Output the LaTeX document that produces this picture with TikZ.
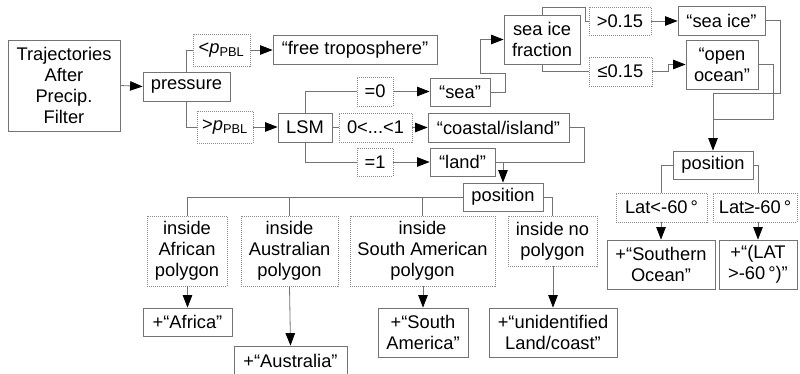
\documentclass[tikz,border=0pt]{standalone}
\usepackage{fontspec}
\setmainfont{Liberation Sans}
\usetikzlibrary{arrows.meta,calc}
\begin{document}
\begin{tikzpicture}[x=1pt,y=-1pt,
  box/.style={draw=black!55, line width=0.8pt, inner sep=0pt, align=center, font=\fontsize{18.3}{21}\selectfont},
  cond/.style={box, draw=black!45, dash pattern=on 1pt off 1pt},
  ln/.style={draw=black!55, line width=0.8pt},
  arr/.style={ln, -{Triangle[length=12.5pt,width=9.5pt,color=black]}}]
\useasboundingbox (0,0) rectangle (800,374);
% left part
\node[box, minimum width=112pt, minimum height=91pt] (traj) at (64,85.5) {Trajectories\\After\\Precip.\\Filter};
\node[box, minimum width=87pt, minimum height=29pt] (press) at (186.5,86.5) {pressure};
\node[cond, minimum width=57pt, minimum height=32pt] (ltp) at (221.5,50) {<\textit{p}\textsubscript{PBL}};
\node[box, minimum width=164pt, minimum height=29pt] (free) at (355,49.5) {“free troposphere”};
\node[cond, minimum width=56pt, minimum height=32pt] (gtp) at (225,127) {>\textit{p}\textsubscript{PBL}};
\node[box, minimum width=54pt, minimum height=29pt] (lsm) at (305,127.5) {LSM};
\node[cond, minimum width=36pt, minimum height=29pt] (eq0) at (375,91.5) {=0};
\node[box, minimum width=60pt, minimum height=28pt] (sea) at (460,92) {“sea”};
\node[cond, minimum width=73pt, minimum height=29pt] (mid) at (375.5,127.5) {0<...<1};
\node[box, minimum width=141pt, minimum height=29pt] (coast) at (498.5,127.5) {“coastal/island”};
\node[cond, minimum width=36pt, minimum height=28pt] (eq1) at (375,162) {=1};
\node[box, minimum width=65pt, minimum height=28pt] (land) at (462.5,162) {“land”};
\node[box, minimum width=80pt, minimum height=28pt] (posL) at (503,197) {position};
% sea ice part
\node[box, minimum width=76pt, minimum height=49pt] (sif) at (542,39.5) {sea ice\\fraction};
\node[cond, minimum width=62pt, minimum height=28pt] (gt015) at (620,21) {>0.15};
\node[box, minimum width=87pt, minimum height=29pt] (seaice) at (721.5,20.5) {“sea ice”};
\node[cond, minimum width=63pt, minimum height=29pt] (le015) at (620.5,71.5) {≤0.15};
\node[box, minimum width=72pt, minimum height=49pt] (open) at (722,64.5) {“open\\ocean”};
\node[box, minimum width=80pt, minimum height=28pt] (posR) at (713,165) {position};
\node[cond, minimum width=91pt, minimum height=29pt] (latlt) at (661.5,207.5) {Lat<-60\,°};
\node[cond, minimum width=84pt, minimum height=29pt] (latge) at (755,207.5) {Lat≥-60\,°};
\node[box, minimum width=108pt, minimum height=49pt] (south) at (661,264.5) {+“Southern\\Ocean”};
\node[box, minimum width=78pt, minimum height=49pt] (latgt) at (758,264.5) {+“(LAT\\>-60\,°)”};
% continents
\node[cond, minimum width=80pt, minimum height=70pt] (afr) at (187,251) {inside\\African\\polygon};
\node[box, minimum width=89pt, minimum height=28pt] (africa) at (187.5,322) {+“Africa”};
\node[cond, minimum width=97pt, minimum height=70pt] (aus) at (289.5,251) {inside\\Australian\\polygon};
\node[box, minimum width=113pt, minimum height=30pt] (austr) at (290.5,361) {+“Australia”};
\node[cond, minimum width=145pt, minimum height=70pt] (sam) at (422.5,251) {inside\\South American\\polygon};
\node[box, minimum width=90pt, minimum height=49pt] (samer) at (423,332.5) {+“South\\America”};
\node[cond, minimum width=89pt, minimum height=50pt] (nopoly) at (552.5,241) {inside no\\polygon};
\node[box, minimum width=128pt, minimum height=49pt] (unid) at (553,332.5) {+“unidentified\\Land/coast”};
% connectors
\draw[arr] (traj.east) -- (press.west);
\draw[ln] (press.north) |- (ltp.west);
\draw[arr] (ltp.east) -- (free.west |- ltp.east);
\draw[ln] (press.south) |- (gtp.west);
\draw[arr] (gtp.east) -- (lsm.west |- gtp.east);
\draw[ln] (lsm.north) |- (eq0.west);
\draw[arr] (eq0.east) -- (sea.west |- eq0.east);
\draw[ln] (lsm.east) -- (mid.west);
\draw[arr] (mid.east) -- (coast.west);
\draw[ln] (lsm.south) |- (eq1.west);
\draw[arr] (eq1.east) -- (land.west);
\draw[arr] (sea.east) -- ++(15,0) -- ++(0,-19) -- ++(-25,0) |- (sif.west);
\draw[ln] (sif.north) -- ++(0,-7) -- ++(43,0) |- (gt015.west);
\draw[ln] (sif.south) |- (le015.west);
\draw[arr] (gt015.east) -- (seaice.west |- gt015.east);
\draw[arr] (le015.east) -- ++(16,0) |- (open.west);
\draw[arr] (seaice.east) -- ++(15,0) -- ++(0,73) -| (posR.north);
\draw[ln] (open.east) -- ++(15,0) |- ($(posR.north)+(0,-31)$);
\draw[ln] (posR.west) -| (latlt.north);
\draw[ln] (posR.east) -| (latgt.north |- latge.north);
\draw[arr] (latlt.south) -- (latlt.south -| south.north) -- (south.north);
\draw[arr] (latgt.north |- latge.south) -- (latgt.north);
\draw[ln] (coast.east) -- ++(15,0) |- (land.east);
\draw[arr] (land.east) -| (posL.north);
\draw[ln] (posL.west) -| (afr.north);
\draw[ln] (aus.north) -- (aus.north |- posL.west);
\draw[ln] (sam.north) -- (sam.north |- posL.west);
\draw[ln] (posL.east) -| (nopoly.north);
\draw[arr] (afr.south) -- (afr.south -| africa.north) -- (africa.north);
\draw[arr] (aus.south) -- (austr.north);
\draw[arr] (sam.south) -- (sam.south -| samer.north) -- (samer.north);
\draw[arr] (nopoly.south) -- (nopoly.south -| unid.north) -- (unid.north);
\end{tikzpicture}
\end{document}
